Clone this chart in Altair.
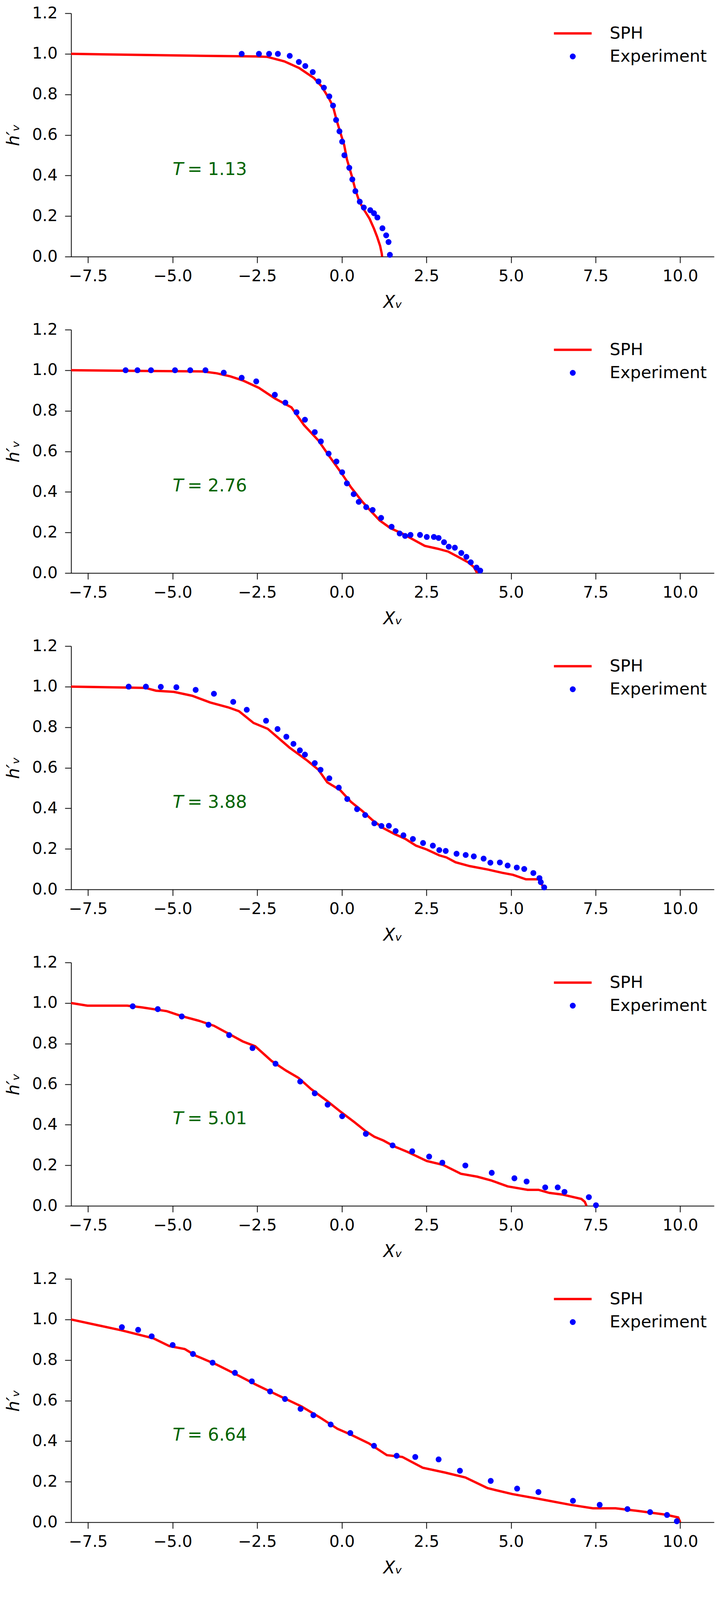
import altair as alt
import pandas as pd

# time labels for each panel
times = ["1.13", "2.76", "3.88", "5.01", "6.64"]
x_ticks = [-7.5, -5.0, -2.5, 0.0, 2.5, 5.0, 7.5, 10.0]
y_ticks = [0.0, 0.2, 0.4, 0.6, 0.8, 1.0, 1.2]
label_x = [-5.0]
label_y = [0.43]

# T = 1.13
sph1_x = [-8.0, -6.0, -4.0, -2.5, -2.2, -1.7, -1.26, -0.82, -0.6, -0.38, -0.26, -0.15, -0.05,
          0.07, 0.15, 0.29, 0.4, 0.51, 0.64, 0.69, 0.82, 0.95, 1.04, 1.13, 1.18, 1.19]
sph1_y = [1.0, 0.995, 0.99, 0.987, 0.985, 0.963, 0.93, 0.88, 0.84, 0.78, 0.74, 0.67, 0.615,
          0.55, 0.48, 0.40, 0.33, 0.275, 0.235, 0.222, 0.187, 0.138, 0.099, 0.054, 0.015, 0.0]
exp1_x = [-2.96, -2.45, -2.15, -1.89, -1.54, -1.27, -1.08, -0.86, -0.69, -0.53, -0.37, -0.26,
          -0.17, -0.07, 0.01, 0.075, 0.22, 0.31, 0.40, 0.53, 0.65, 0.84, 0.95, 1.05, 1.20, 1.31,
          1.38, 1.42]
exp1_y = [1.0, 1.0, 1.0, 1.0, 0.99, 0.96, 0.94, 0.91, 0.864, 0.833, 0.79, 0.745, 0.674, 0.618,
          0.567, 0.50, 0.438, 0.381, 0.323, 0.271, 0.242, 0.229, 0.214, 0.193, 0.140, 0.105,
          0.072, 0.009]

# T = 2.76
sph2_x = [-8.0, -6.0, -4.1, -3.7, -3.3, -2.93, -2.45, -1.97, -1.49, -1.12, -0.69, -0.37, 0.0,
          0.27, 0.59, 0.85, 1.12, 1.44, 1.76, 2.08, 2.45, 2.83, 3.14, 3.41, 3.73, 3.9, 4.0]
sph2_y = [1.0, 0.997, 0.994, 0.985, 0.97, 0.95, 0.913, 0.86, 0.817, 0.73, 0.653, 0.576, 0.49,
          0.423, 0.355, 0.307, 0.259, 0.221, 0.197, 0.168, 0.134, 0.12, 0.106, 0.082, 0.053,
          0.03, 0.0]
exp2_x = [-6.39, -6.04, -5.64, -4.93, -4.48, -4.03, -3.49, -2.96, -2.53, -1.98, -1.67, -1.34,
          -1.09, -0.80, -0.62, -0.39, -0.16, 0.01, 0.15, 0.35, 0.50, 0.72, 0.91, 1.16, 1.47,
          1.71, 1.87, 2.03, 2.31, 2.51, 2.72, 2.86, 3.02, 3.16, 3.34, 3.53, 3.68, 3.81, 3.98,
          4.09]
exp2_y = [1.0, 1.0, 1.0, 1.0, 1.0, 1.0, 0.988, 0.963, 0.945, 0.879, 0.840, 0.793, 0.756, 0.695,
          0.649, 0.589, 0.550, 0.497, 0.442, 0.389, 0.351, 0.325, 0.311, 0.272, 0.228, 0.195,
          0.183, 0.188, 0.188, 0.178, 0.178, 0.173, 0.152, 0.130, 0.125, 0.099, 0.080, 0.053,
          0.027, 0.012]

# T = 3.88
sph3_x = [-8.0, -5.81, -5.49, -4.96, -4.42, -3.89, -3.36, -3.04, -2.61, -2.19, -1.55, -1.01,
          -0.69, -0.43, -0.05, 0.27, 0.59, 0.91, 1.23, 1.55, 1.87, 2.19, 2.51, 2.88, 3.09, 3.36,
          3.78, 4.32, 4.74, 5.06, 5.44, 5.81, 5.90, 5.97]
sph3_y = [1.0, 0.994, 0.98, 0.974, 0.955, 0.922, 0.898, 0.879, 0.821, 0.792, 0.70, 0.634, 0.590,
          0.528, 0.49, 0.432, 0.389, 0.341, 0.302, 0.274, 0.25, 0.216, 0.197, 0.168, 0.158,
          0.134, 0.115, 0.098, 0.082, 0.072, 0.05, 0.05, 0.029, 0.0]
exp3_x = [-6.30, -5.79, -5.35, -4.89, -4.32, -3.78, -3.21, -2.81, -2.24, -1.90, -1.64, -1.43,
          -1.24, -1.09, -0.80, -0.63, -0.37, -0.09, 0.16, 0.45, 0.69, 0.96, 1.17, 1.39, 1.59,
          1.82, 2.10, 2.40, 2.69, 2.88, 3.07, 3.39, 3.66, 3.90, 4.19, 4.39, 4.67, 4.90, 5.17,
          5.39, 5.66, 5.84, 5.88, 5.98]
exp3_y = [1.0, 1.0, 0.999, 0.997, 0.984, 0.965, 0.925, 0.886, 0.832, 0.791, 0.753, 0.718,
          0.686, 0.665, 0.623, 0.590, 0.548, 0.502, 0.446, 0.396, 0.367, 0.326, 0.313, 0.314,
          0.288, 0.267, 0.249, 0.229, 0.216, 0.194, 0.190, 0.176, 0.170, 0.163, 0.152, 0.132,
          0.133, 0.118, 0.108, 0.101, 0.081, 0.056, 0.036, 0.010]

# T = 5.01
sph4_x = [-8.0, -7.52, -6.34, -5.92, -5.17, -4.74, -4.21, -3.78, -3.36, -2.93, -2.56, -2.08,
          -1.65, -1.28, -0.91, -0.48, -0.05, 0.37, 0.69, 0.96, 1.23, 1.55, 1.97, 2.51, 2.99,
          3.52, 4.0, 4.42, 4.9, 5.49, 5.81, 6.13, 6.51, 7.08, 7.18, 7.23]
sph4_y = [1.0, 0.987, 0.987, 0.979, 0.96, 0.936, 0.912, 0.888, 0.85, 0.811, 0.787, 0.715,
          0.667, 0.631, 0.576, 0.523, 0.466, 0.413, 0.37, 0.341, 0.322, 0.293, 0.264, 0.221,
          0.202, 0.158, 0.144, 0.125, 0.096, 0.079, 0.079, 0.064, 0.056, 0.034, 0.02, 0.0]
exp4_x = [-6.18, -5.44, -4.73, -3.94, -3.33, -2.64, -1.96, -1.23, -0.80, -0.42, 0.01, 0.71,
          1.50, 2.08, 2.58, 2.97, 3.65, 4.43, 5.10, 5.46, 6.01, 6.38, 6.58, 7.30, 7.51]
exp4_y = [0.984, 0.970, 0.934, 0.893, 0.842, 0.778, 0.701, 0.613, 0.555, 0.499, 0.442, 0.355,
          0.298, 0.269, 0.243, 0.213, 0.199, 0.163, 0.136, 0.120, 0.091, 0.091, 0.069, 0.043,
          0.003]

# T = 6.64
sph5_x = [-8.0, -6.5, -5.57, -5.1, -4.64, -4.31, -3.71, -3.18, -2.52, -1.86, -1.19, -0.66,
          -0.13, 0.27, 0.8, 1.33, 1.79, 2.39, 3.05, 3.65, 4.31, 5.04, 5.83, 6.76, 7.42, 8.09,
          8.75, 9.55, 9.94, 10.0]
sph5_y = [1.0, 0.946, 0.907, 0.869, 0.854, 0.821, 0.778, 0.734, 0.677, 0.624, 0.571, 0.518,
          0.461, 0.432, 0.389, 0.331, 0.322, 0.269, 0.245, 0.221, 0.168, 0.139, 0.115, 0.086,
          0.069, 0.069, 0.056, 0.038, 0.024, 0.0]
exp5_x = [-6.50, -6.02, -5.62, -5.0, -4.40, -3.82, -3.16, -2.66, -2.12, -1.68, -1.22, -0.84,
          -0.33, 0.25, 0.95, 1.62, 2.17, 2.86, 3.49, 4.40, 5.18, 5.81, 6.83, 7.62, 8.44, 9.11,
          9.61, 9.90]
exp5_y = [0.962, 0.949, 0.917, 0.874, 0.830, 0.787, 0.737, 0.695, 0.645, 0.608, 0.559, 0.528,
          0.482, 0.440, 0.377, 0.328, 0.322, 0.310, 0.254, 0.204, 0.166, 0.149, 0.106, 0.086,
          0.065, 0.050, 0.036, 0.005]

panels_data = [
    (sph1_x, sph1_y, exp1_x, exp1_y),
    (sph2_x, sph2_y, exp2_x, exp2_y),
    (sph3_x, sph3_y, exp3_x, exp3_y),
    (sph4_x, sph4_y, exp4_x, exp4_y),
    (sph5_x, sph5_y, exp5_x, exp5_y),
]

PANEL_W = 1645
PANEL_H = 623

legend_common = dict(labelFontSize=43, labelFont="DejaVu Sans", labelColor="black",
                     labelLimit=0, title=None, padding=0, orient="none",
                     legendX=1262, labelOffset=73, symbolSize=227)
sph_legend = alt.Legend(legendY=30, symbolType="M-6.4,0H6.4", symbolStrokeWidth=6,
                        **legend_common)
exp_legend = alt.Legend(legendY=89, symbolType="circle", symbolStrokeWidth=0,
                        **legend_common)


def make_panel(sx, sy, ex, ey, t):
    sph = pd.DataFrame({"x": sx, "y": sy, "series": "SPH", "i": range(len(sx))})
    exp = pd.DataFrame({"x": ex, "y": ey, "series": "Experiment"})
    lab = pd.DataFrame({"x": label_x, "y": label_y, "t": ["= " + t]})

    xs = alt.X("x:Q", scale=alt.Scale(domain=[-8, 11], nice=False, zero=False),
               axis=alt.Axis(values=x_ticks, format=".1f", title="Xᵥ"))
    ys = alt.Y("y:Q", scale=alt.Scale(domain=[0, 1.2], nice=False),
               axis=alt.Axis(values=y_ticks, format=".1f", title="h′ᵥ"))

    line = alt.Chart(sph).mark_line(strokeWidth=6).encode(
        xs, ys, order="i:Q",
        stroke=alt.Stroke("series:N", scale=alt.Scale(domain=["SPH"], range=["red"]),
                          legend=sph_legend))
    pts = alt.Chart(exp).mark_circle(size=227, opacity=1).encode(
        xs, ys,
        fill=alt.Fill("series:N", scale=alt.Scale(domain=["Experiment"], range=["blue"]),
                      legend=exp_legend))
    t_sym = alt.Chart(lab).mark_text(
        text="T", fontStyle="italic", align="left", baseline="middle",
        fontSize=45, font="DejaVu Sans", color="darkgreen"
    ).encode(xs, ys)
    t_val = alt.Chart(lab).mark_text(
        dx=38, align="left", baseline="middle",
        fontSize=45, font="DejaVu Sans", color="darkgreen"
    ).encode(xs, ys, text="t:N")
    return alt.layer(line, pts, t_sym, t_val).properties(width=PANEL_W, height=PANEL_H)


panels = [make_panel(*d, t) for d, t in zip(panels_data, times)]

chart = alt.vconcat(*panels, spacing=27).resolve_scale(
    stroke="independent", fill="independent"
).configure_view(
    stroke=None
).configure_axis(
    grid=False, domainColor="black", domainWidth=2, tickColor="black", tickWidth=2,
    tickSize=16, labelFontSize=41, labelFont="DejaVu Sans", labelColor="black",
    titleFontSize=44, titleFont="DejaVu Sans", titleFontStyle="italic",
    titleFontWeight="normal", titleColor="black"
).configure_axisX(
    labelPadding=14, titlePadding=25
).configure_axisY(
    labelPadding=19, titlePadding=24
).properties(background="white")

chart.save("out.html", embed_options={"renderer": "svg", "actions": False})
